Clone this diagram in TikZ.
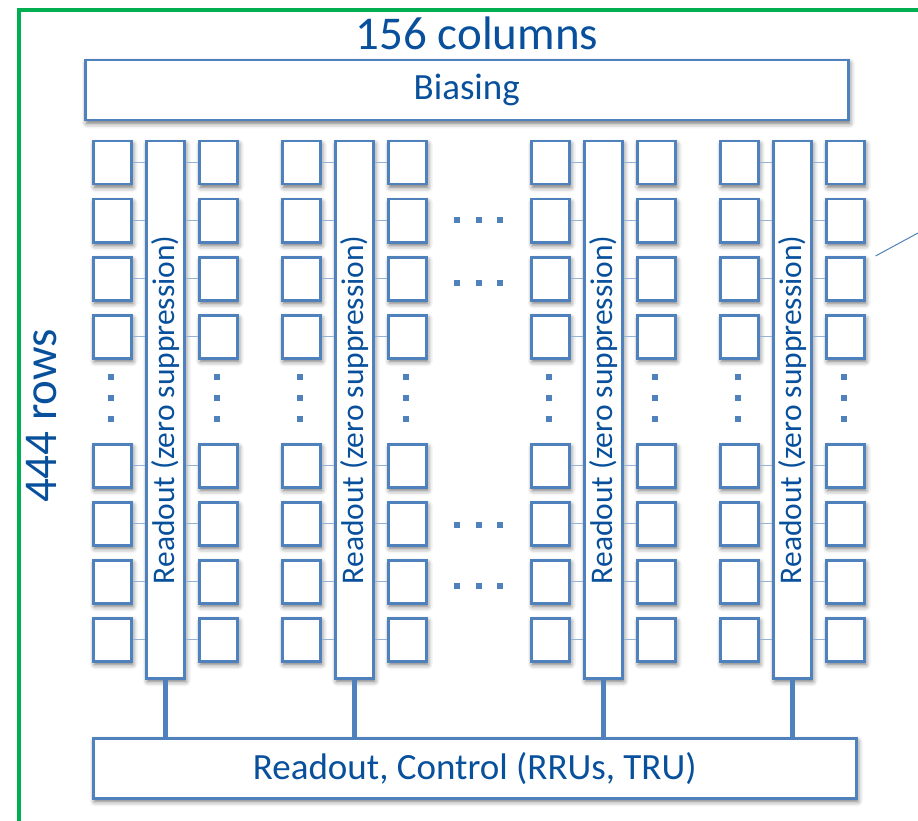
\documentclass[tikz,border=0pt]{standalone}
\usepackage{fontspec}
\setmainfont{Carlito}
\usetikzlibrary{positioning, shadows.blur}

\definecolor{boxblue}{RGB}{79,129,189}
\definecolor{linkblue}{RGB}{149,179,215}
\definecolor{textblue}{RGB}{8,80,156}
\definecolor{framegreen}{RGB}{0,176,80}

\begin{document}
\begin{tikzpicture}[x=1pt, y=-1pt,
    box/.style={rectangle, draw=boxblue, line width=2.5pt, fill=white, text=textblue, inner sep=0pt, anchor=north west,
        blur shadow={shadow xshift=1.5pt, shadow yshift=-3pt, shadow blur radius=5pt, shadow opacity=60}},
    pixel/.style={box, minimum width=38pt, minimum height=43pt},
    readout/.style={box, minimum width=38pt, minimum height=537pt},
    wide/.style={box, minimum width=763pt, minimum height=60pt, font=\fontsize{37}{40}\selectfont},
    bartext/.style={rotate=90, text=textblue, font=\fontsize{31.5}{34}\selectfont},
    title/.style={text=textblue, font=\fontsize{47}{50}\selectfont},
    link/.style={draw=linkblue, line width=1.2pt},
    stem/.style={draw=boxblue, line width=5pt}
]
\useasboundingbox (0,0) rectangle (918,821);

% outer frame
\draw[framegreen, line width=4.5pt] (19,821) -- (19,10) -- (918,10);

\node[title] (cols) at (477,33) {156 columns};
\node[title, rotate=90] (rows) at (42,416) {444 rows};

\node[wide] (bias) at (84,59) {Biasing};
\node[wide] (ctrl) at (92,737) {Readout, Control (RRUs, TRU)};

% four readout columns with their pixels
\foreach \g/\xo in {1/92, 2/281, 3/530, 4/719} {
    \node[readout] (bar\g) at (\xo+53,140) {};
    \node[bartext] at (bar\g.center) {Readout (zero suppression)};
    \draw[stem] (bar\g.south) -- (bar\g.south |- ctrl.north);
    \foreach \r/\yo in {1/140, 2/198, 3/256, 4/314, 5/443, 6/501, 7/559, 8/617} {
        \node[pixel] (L\g-\r) at (\xo,\yo) {};
        \node[pixel] (R\g-\r) at (\xo+106,\yo) {};
        \draw[link] (L\g-\r.east) -- (L\g-\r.east -| bar\g.west);
        \draw[link] (R\g-\r.west) -- (R\g-\r.west -| bar\g.east);
    }
    % vertical dots between the row blocks
    \foreach \yd in {377, 398, 419} {
        \fill[boxblue] (\xo+16,\yd-3) rectangle ++(6,6);
        \fill[boxblue] (\xo+122,\yd-3) rectangle ++(6,6);
    }
}

% horizontal dots between the middle columns
\foreach \yd in {220, 283, 525, 586}
    \foreach \xd in {457, 479, 500}
        \fill[boxblue] (\xd-3,\yd-3) rectangle ++(6,6);

% pointer leaving to the right
\coordinate (callout) at (918,233);
\draw[boxblue, line width=1pt] ([xshift=10pt]R4-3.north east) -- (callout);
\end{tikzpicture}
\end{document}
